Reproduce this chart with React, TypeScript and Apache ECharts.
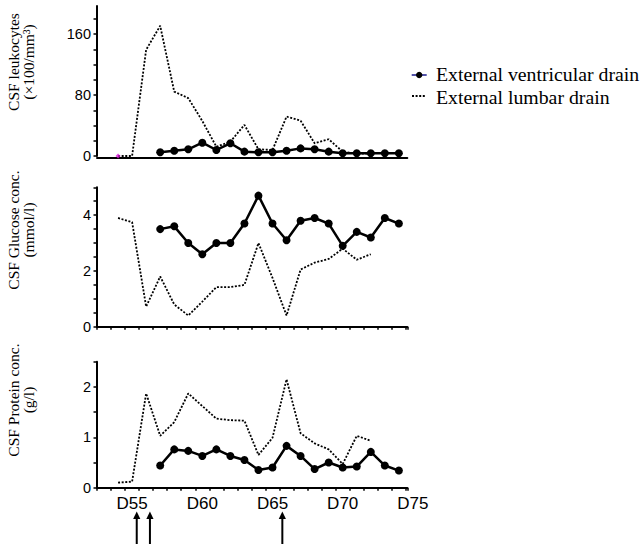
import React, { useEffect, useRef } from "react";
import * as echarts from "echarts";

// ---- data ----
const evdDays = [57, 58, 59, 60, 61, 62, 63, 64, 65, 66, 67, 68, 69, 70, 71, 72, 73, 74];
const lumbarDays = [54, 55, 56, 57, 58, 59, 60, 61, 62, 63, 64, 65, 66, 67, 68, 69, 70, 71, 72];

const leukEVD = [4.9, 7, 8.8, 17.5, 7.9, 16.7, 5.7, 4.9, 4.9, 7, 10, 8.8, 5.7, 3.6, 3.6, 3.6, 3.6, 3.6];
const leukLumbar = [0, 0, 139.5, 171, 84.6, 76, 46, 12.2, 18.8, 40.8, 8.8, 7.9, 51.7, 46.4, 16.7, 22, 5.7, 3, 3];

const glucEVD = [3.5, 3.6, 3.0, 2.6, 3.0, 3.0, 3.7, 4.7, 3.7, 3.1, 3.8, 3.9, 3.7, 2.9, 3.4, 3.2, 3.9, 3.7];
const glucLumbar = [3.9, 3.75, 0.72, 1.8, 0.8, 0.4, 0.9, 1.42, 1.42, 1.5, 3.0, 1.75, 0.4, 2.05, 2.3, 2.43, 2.8, 2.4, 2.6];

const protEVD = [0.44, 0.76, 0.73, 0.63, 0.76, 0.63, 0.55, 0.35, 0.4, 0.83, 0.63, 0.37, 0.5, 0.4, 0.42, 0.71, 0.44, 0.34];
const protLumbar = [0.1, 0.12, 1.87, 1.03, 1.3, 1.87, 1.62, 1.37, 1.34, 1.33, 0.65, 0.99, 2.15, 1.08, 0.88, 0.76, 0.47, 1.03, 0.93];

const strayMark = [[54, 0]];

const leukLabels = [0, 80, 160];
const glucLabels = [0, 2, 4];
const protLabels = [0, 1, 2];
const dayLabels = [55, 60, 65, 70, 75];
const arrowDays = [55.33, 56.27, 65.7];

const seriesNames = ["External ventricular drain", "External lumbar drain"];
const panelTitles = [
  "CSF leukocytes\n(×100/mm³)",
  "CSF Glucose conc.\n(mmol/l)",
  "CSF Protein conc.\n(g/l)",
];

const SANS = "Liberation Sans, Arial, Helvetica, sans-serif";
const SERIF = "Liberation Serif, Times New Roman, serif";

const pair = (days: number[], vals: number[]) => days.map((d, i) => [d, vals[i]]);

export default function App() {
  const ref = useRef<HTMLDivElement>(null);

  useEffect(() => {
    if (!ref.current) return;
    const chart = echarts.init(ref.current, undefined, { renderer: "svg" });

    const gridLeft = 97;
    const gridW = 310.3;
    const grids = [
      { left: gridLeft, top: 6, width: gridW, height: 150 },
      { left: gridLeft, top: 187.3, width: gridW, height: 139.4 },
      { left: gridLeft, top: 361.7, width: gridW, height: 126 },
      { left: gridLeft, top: 361.7, width: 22.5 * (gridW / 22.1), height: 126 },
    ];

    const axisLine = { show: true, onZero: false, lineStyle: { color: "#000", width: 2 } };
    const dataX = (gi: number, ticks: boolean, offset = 0) => ({
      type: "value",
      gridIndex: gi,
      min: 52.5,
      max: 74.6,
      interval: 1,
      offset,
      axisLine,
      axisTick: { show: ticks, length: 3, lineStyle: { color: "#000", width: 1.5 } },
      axisLabel: { show: false },
      splitLine: { show: false },
    });

    const yLabelStyle = { color: "#000", fontSize: 14.5, fontFamily: SANS, margin: 6 };
    const yTick = { show: true, length: 3.5, lineStyle: { color: "#000", width: 1.5 } };
    const only = (list: number[]) => (v: number) => (list.indexOf(v) >= 0 ? String(v) : "");

    const evdStyle = {
      type: "line",
      symbol: "circle",
      symbolSize: 8,
      lineStyle: { color: "#000", width: 2.5 },
      itemStyle: { color: "#000" },
      z: 3,
    };
    const lumbarStyle = {
      type: "line",
      symbol: "none",
      lineStyle: { color: "#000", width: 1.8, type: [2, 1.6] },
      z: 2,
    };

    chart.setOption({
      animation: false,
      backgroundColor: "#fff",
      grid: grids,
      xAxis: [
        dataX(0, false, 1.5),
        dataX(1, true),
        dataX(2, true),
        {
          type: "value",
          gridIndex: 3,
          min: 52.5,
          max: 75,
          interval: 2.5,
          axisLine: { show: false },
          axisTick: { show: false },
          splitLine: { show: false },
          axisLabel: {
            color: "#000",
            fontSize: 17,
            fontFamily: SANS,
            margin: 7,
            showMinLabel: true,
            showMaxLabel: true,
            formatter: (v: number) => (dayLabels.indexOf(v) >= 0 ? "D" + v : ""),
          },
        },
      ],
      yAxis: [
        {
          type: "value",
          gridIndex: 0,
          min: 0,
          max: 197,
          interval: 20,
          axisLine,
          axisTick: yTick,
          axisLabel: { ...yLabelStyle, showMaxLabel: false, formatter: only(leukLabels) },
          splitLine: { show: false },
        },
        {
          type: "value",
          gridIndex: 1,
          min: 0,
          max: 5,
          interval: 0.5,
          axisLine,
          axisTick: yTick,
          axisLabel: { ...yLabelStyle, formatter: only(glucLabels) },
          splitLine: { show: false },
        },
        {
          type: "value",
          gridIndex: 2,
          min: 0,
          max: 2.5,
          interval: 0.5,
          axisLine,
          axisTick: yTick,
          axisLabel: { ...yLabelStyle, formatter: only(protLabels) },
          splitLine: { show: false },
        },
        { type: "value", gridIndex: 3, show: false, min: 0, max: 1 },
      ],
      series: [
        { ...lumbarStyle, name: seriesNames[1], xAxisIndex: 0, yAxisIndex: 0, data: pair(lumbarDays, leukLumbar) },
        { ...evdStyle, name: seriesNames[0], xAxisIndex: 0, yAxisIndex: 0, data: pair(evdDays, leukEVD) },
        {
          type: "scatter",
          name: "stray",
          xAxisIndex: 0,
          yAxisIndex: 0,
          symbol: "diamond",
          symbolSize: 5,
          itemStyle: { color: "#d81bd8" },
          data: strayMark,
          z: 4,
        },
        { ...lumbarStyle, name: seriesNames[1], xAxisIndex: 1, yAxisIndex: 1, data: pair(lumbarDays, glucLumbar) },
        { ...evdStyle, name: seriesNames[0], xAxisIndex: 1, yAxisIndex: 1, data: pair(evdDays, glucEVD) },
        { ...lumbarStyle, name: seriesNames[1], xAxisIndex: 2, yAxisIndex: 2, data: pair(lumbarDays, protLumbar) },
        { ...evdStyle, name: seriesNames[0], xAxisIndex: 2, yAxisIndex: 2, data: pair(evdDays, protEVD) },
      ],
    });

    const titleCenters = [
      [20.5, 62],
      [20.5, 230],
      [20.5, 400],
    ];
    const graphics: any[] = [];
    panelTitles.forEach((t, i) => {
      graphics.push({
        type: "text",
        id: "title" + i,
        x: titleCenters[i][0],
        y: titleCenters[i][1],
        rotation: Math.PI / 2,
        style: {
          text: t,
          fill: "#000",
          fontSize: 15.5,
          fontFamily: SERIF,
          lineHeight: 15,
          align: "center",
          verticalAlign: "middle",
        },
      });
    });

    graphics.push(
      {
        type: "line",
        id: "lg0line",
        shape: { x1: 411.7, y1: 75, x2: 426.7, y2: 75 },
        style: { stroke: "#1a1a8c", lineWidth: 1.5 },
      },
      {
        type: "circle",
        id: "lg0dot",
        shape: { cx: 419.2, cy: 75, r: 3.2 },
        style: { fill: "#000" },
      },
      {
        type: "text",
        id: "lg0text",
        x: 436,
        y: 74,
        style: { text: seriesNames[0], fill: "#000", fontSize: 19.8, fontFamily: SERIF, verticalAlign: "middle" },
      },
      {
        type: "line",
        id: "lg1line",
        shape: { x1: 412, y1: 96, x2: 425, y2: 96 },
        style: { stroke: "#000", lineWidth: 1.8, lineDash: [2, 1.6] },
      },
      {
        type: "text",
        id: "lg1text",
        x: 436,
        y: 97,
        style: { text: seriesNames[1], fill: "#000", fontSize: 19.8, fontFamily: SERIF, verticalAlign: "middle" },
      }
    );

    arrowDays.forEach((d, i) => {
      const px = chart.convertToPixel({ xAxisIndex: 2 }, d) as number;
      graphics.push(
        {
          type: "line",
          id: "arrowShaft" + i,
          shape: { x1: px, y1: 546, x2: px, y2: 517 },
          style: { stroke: "#000", lineWidth: 2 },
        },
        {
          type: "polygon",
          id: "arrowHead" + i,
          shape: { points: [[px, 511.5], [px - 3.6, 519], [px + 3.6, 519]] },
          style: { fill: "#000" },
        }
      );
    });

    chart.setOption({ graphic: graphics });

    return () => chart.dispose();
  }, []);

  return (
    <div
      ref={ref}
      style={{ position: "fixed", left: 0, top: 0, width: 642, height: 544, background: "#fff" }}
    />
  );
}
